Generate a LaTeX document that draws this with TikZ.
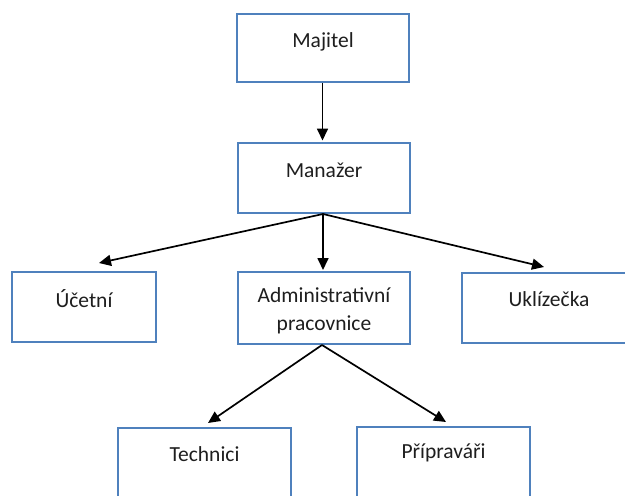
\documentclass[tikz,border=0pt]{standalone}
\usepackage{fontspec}
\setmainfont{Carlito}
\usetikzlibrary{arrows.meta}
\definecolor{boxblue}{RGB}{79,129,189}
\definecolor{txt}{RGB}{30,30,30}
\begin{document}
\begin{tikzpicture}[x=1pt,y=-1pt,
  orgbox/.style={draw=boxblue, line width=2pt, anchor=north west, inner sep=0pt,
    minimum width=#1},
  orgbox/.default=172pt,
  lbl/.style={text=txt, font=\fontsize{21.5}{28}\selectfont, align=center, inner sep=0pt},
  link/.style={line width=1.7pt, -{Triangle[length=12pt,width=11pt]}}]
  \useasboundingbox (0,0) rectangle (625,496);

  % boxes
  \node[orgbox, minimum height=68pt] (maj) at (236,13) {};
  \node[orgbox, minimum height=70pt] (man) at (237,142) {};
  \node[orgbox=144pt, minimum height=70pt] (uc) at (11,271) {};
  \node[orgbox, minimum height=72pt] (adm) at (237,271) {};
  \node[orgbox=174pt, minimum height=70pt] (ukl) at (461,272) {};
  \node[orgbox=173pt, minimum height=75pt] (tech) at (117,427) {};
  \node[orgbox=173pt, minimum height=76pt] (prip) at (356,426) {};

  % texts
  \node[lbl] (tmaj) at ([yshift=-29pt]maj.north) {Majitel};
  \node[lbl] (tman) at ([yshift=-28pt]man.north) {Manažer};
  \node[lbl] (tuc) at ([yshift=-28pt]uc.north) {Účetní};
  \node[lbl] (tadm) at ([yshift=-40pt]adm.north) {Administrativní\\pracovnice};
  \node[lbl] (tukl) at ([yshift=-27pt]ukl.north) {Uklízečka};
  \node[lbl] (ttech) at ([yshift=-27pt]tech.north) {Technici};
  \node[lbl] (tprip) at ([yshift=-27pt]prip.north) {Přípraváři};

  % connectors
  \draw[link] ([xshift=-0.5pt]maj.south) -- ([xshift=-1.5pt,yshift=1.5pt]man.north);
  \draw[link] ([xshift=-1pt]man.south) -- ([xshift=15pt,yshift=8pt]uc.north);
  \draw[link] ([xshift=-1pt]man.south) -- ([xshift=-1pt,yshift=1pt]adm.north);
  \draw[link] ([xshift=-1pt]man.south) -- ([xshift=-5pt,yshift=5pt]ukl.north);
  \draw[link] ([xshift=-2pt]adm.south) -- ([xshift=3.5pt,yshift=4pt]tech.north);
  \draw[link] ([xshift=-2pt]adm.south) -- ([xshift=2.5pt,yshift=4pt]prip.north);
\end{tikzpicture}
\end{document}
